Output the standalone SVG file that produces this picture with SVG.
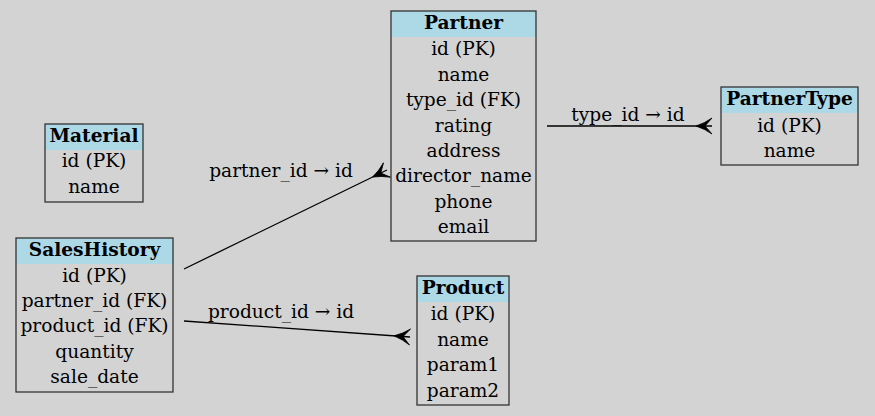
<svg xmlns="http://www.w3.org/2000/svg" width="875" height="416" viewBox="0 0 875 416">
<style>
.bg{fill:#d3d3d3}
.box{fill:none;stroke:#333;stroke-width:1.3}
.hdr{fill:#add8e6}
text{font-family:"DejaVu Serif",serif;font-size:18.6px;fill:#000;text-anchor:middle}
.t{font-weight:bold}
.e{stroke:#000;stroke-width:1.3;fill:none}
</style>
<defs>
<marker id="crow" viewBox="-17 -9 18 18" refX="0" refY="0" markerWidth="18" markerHeight="18" markerUnits="userSpaceOnUse" orient="auto">
<path d="M0,-8 Q-7,-3 -16,0 Q-7,3 0,8 L-7,0 Z" fill="#000" stroke="#000" stroke-width="0.8" stroke-linejoin="round"/>
</marker>
</defs>
<rect class="bg" width="875" height="416"/>
<g id="connectors">
<path class="e" d="M547,126 L712,126" marker-end="url(#crow)"/>
<text x="628" y="121">type_id → id</text>
<path class="e" d="M184,269 L387,170" marker-end="url(#crow)"/>
<text x="281" y="177">partner_id → id</text>
<path class="e" d="M184,321 L410,337" marker-end="url(#crow)"/>
<text x="281" y="318">product_id → id</text>
</g>
<g id="Partner">
<rect class="hdr" x="391" y="11" width="145" height="26"/>
<rect class="box" x="391" y="11" width="145" height="230"/>
<text class="t" x="463.5" y="29">Partner</text>
<text x="463.5" y="55">id (PK)</text>
<text x="463.5" y="81">name</text>
<text x="463.5" y="106">type_id (FK)</text>
<text x="463.5" y="132">rating</text>
<text x="463.5" y="157">address</text>
<text x="463.5" y="182">director_name</text>
<text x="463.5" y="208">phone</text>
<text x="463.5" y="233">email</text>
</g>
<g id="PartnerType">
<rect class="hdr" x="721" y="87" width="137" height="26"/>
<rect class="box" x="721" y="87" width="137" height="78"/>
<text class="t" x="789.5" y="105">PartnerType</text>
<text x="789.5" y="132">id (PK)</text>
<text x="789.5" y="157">name</text>
</g>
<g id="Material">
<rect class="hdr" x="45" y="124" width="98" height="26"/>
<rect class="box" x="45" y="124" width="98" height="78"/>
<text class="t" x="94" y="142">Material</text>
<text x="94" y="167">id (PK)</text>
<text x="94" y="193">name</text>
</g>
<g id="SalesHistory">
<rect class="hdr" x="16" y="238" width="157" height="26"/>
<rect class="box" x="16" y="238" width="157" height="154"/>
<text class="t" x="94.5" y="256">SalesHistory</text>
<text x="94.5" y="282">id (PK)</text>
<text x="94.5" y="307">partner_id (FK)</text>
<text x="94.5" y="332">product_id (FK)</text>
<text x="94.5" y="358">quantity</text>
<text x="94.5" y="383">sale_date</text>
</g>
<g id="Product">
<rect class="hdr" x="417" y="276" width="92" height="26"/>
<rect class="box" x="417" y="276" width="92" height="129"/>
<text class="t" x="463" y="294">Product</text>
<text x="463" y="320">id (PK)</text>
<text x="463" y="346">name</text>
<text x="463" y="371">param1</text>
<text x="463" y="397">param2</text>
</g>
</svg>
